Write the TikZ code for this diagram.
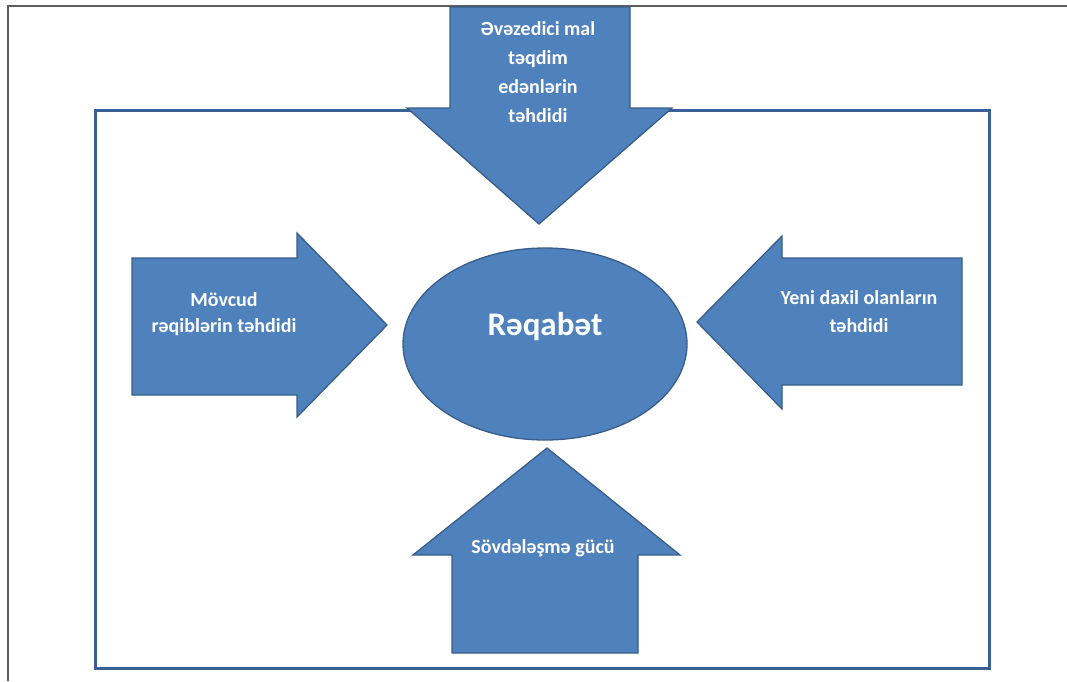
\documentclass[tikz,border=0pt]{standalone}
\usepackage{fontspec}
\setmainfont{Carlito}
\usetikzlibrary{shapes.geometric}
\definecolor{fillb}{HTML}{4F81BD}
\definecolor{lineb}{HTML}{385D8A}
\definecolor{frameb}{HTML}{3A5F94}
\definecolor{grayline}{HTML}{5E5E5E}
\begin{document}
\begin{tikzpicture}[x=1pt,y=-1pt,
  shp/.style={fill=fillb,draw=lineb,line width=1.3pt,line join=miter},
  lbl/.style={text=white,font=\bfseries\fontsize{20}{28}\selectfont,align=center,inner sep=0pt}]
\useasboundingbox (0,0) rectangle (1067,681);
\draw[grayline,line width=2pt] (7.5,681) -- (7.5,5.5) -- (1067,5.5);
\draw[frameb,line width=3pt] (95,110) rectangle (989,668);
% centre ellipse
\node[shp,ellipse,minimum width=284pt,minimum height=192pt,inner sep=0pt] (c) at (545,344) {};
\node[lbl,font=\bfseries\fontsize{33}{36}\selectfont] (ct) at (545,327) {Rəqabət};
% top arrow (down)
\draw[shp] (450,7) -- (630,7) -- (630,108) -- (672,108) -- (539,224) -- (407,108) -- (450,108) -- cycle;
\node[lbl,font=\bfseries\fontsize{20}{29}\selectfont] (top) at (538,72) {Əvəzedici mal\\təqdim\\edənlərin\\təhdidi};
% left arrow (right)
\draw[shp] (132,258) -- (297,258) -- (297,233) -- (387,325) -- (297,417) -- (297,395) -- (132,395) -- cycle;
\node[lbl,font=\bfseries\fontsize{20}{26}\selectfont] (left) at (224,314) {Mövcud\\rəqiblərin təhdidi};
% right arrow (left)
\draw[shp] (962,258) -- (782,258) -- (782,236) -- (697,322) -- (782,409) -- (782,385) -- (962,385) -- cycle;
\node[lbl,font=\bfseries\fontsize{20}{28}\selectfont] (right) at (859,312) {Yeni daxil olanların\\təhdidi};
% bottom arrow (up)
\draw[shp] (452,653) -- (452,555) -- (413,555) -- (547,448) -- (680,555) -- (638,555) -- (638,653) -- cycle;
\node[lbl] (bottom) at (543,548) {Sövdələşmə gücü};
\end{tikzpicture}
\end{document}
